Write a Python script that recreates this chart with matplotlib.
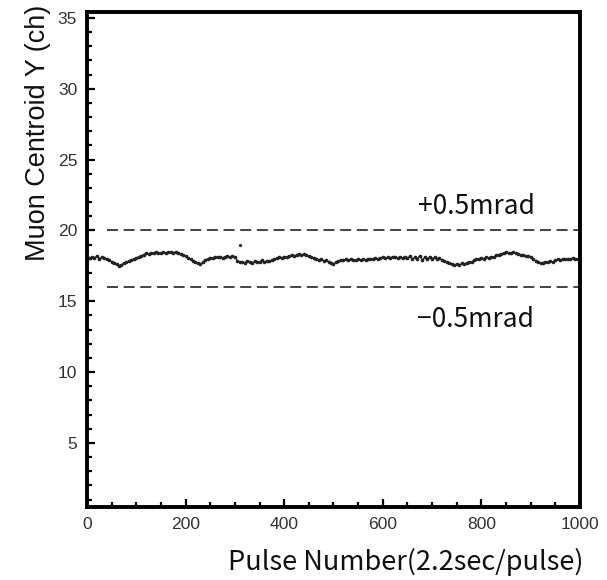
import numpy as np
import matplotlib
matplotlib.use("Agg")
import matplotlib.pyplot as plt
from matplotlib.ticker import MultipleLocator

# centroid, one value every 5 pulses
pulse = np.arange(0, 1000, 5)
centroid = [
    18.12, 18.05, 18.15, 18.08, 18.18, 18.02, 18.10, 18.05, 17.95, 17.88,
    17.80, 17.72, 17.60, 17.52, 17.58, 17.70, 17.75, 17.85, 17.92, 18.00,
    18.05, 18.15, 18.22, 18.30, 18.38, 18.35, 18.42, 18.40, 18.45, 18.38,
    18.42, 18.48, 18.40, 18.46, 18.50, 18.44, 18.48, 18.40, 18.36, 18.30,
    18.20, 18.05, 17.95, 17.85, 17.75, 17.68, 17.62, 17.75, 17.90, 18.00,
    18.08, 18.05, 18.12, 18.10, 18.15, 18.08, 18.12, 18.18, 18.10, 18.20,
    18.15, 17.85, 17.75, 17.80, 17.72, 17.85, 17.78, 17.70, 17.82, 17.75,
    17.80, 17.88, 17.78, 17.85, 17.82, 17.90, 17.95, 18.05, 18.10, 18.08,
    18.15, 18.10, 18.20, 18.25, 18.18, 18.30, 18.35, 18.28, 18.32, 18.25,
    18.18, 18.10, 18.05, 17.98, 17.92, 17.95, 17.85, 17.90, 17.80, 17.68,
    17.62, 17.75, 17.85, 17.92, 17.88, 17.95, 17.90, 17.98, 17.92, 17.88,
    17.95, 17.90, 17.98, 17.92, 18.00, 17.95, 18.02, 18.05, 17.98, 18.08,
    18.10, 18.05, 18.12, 18.08, 18.15, 18.10, 18.05, 18.12, 18.08, 18.15,
    18.05, 18.18, 17.95, 18.12, 18.00, 18.20, 17.92, 18.10, 17.98, 18.15,
    18.02, 18.10, 17.95, 18.05, 17.90, 17.85, 17.78, 17.70, 17.65, 17.58,
    17.62, 17.55, 17.68, 17.62, 17.72, 17.80, 17.78, 17.88, 17.95, 18.00,
    18.05, 18.02, 18.10, 18.08, 18.15, 18.12, 18.25, 18.30, 18.35, 18.40,
    18.45, 18.38, 18.42, 18.48, 18.40, 18.35, 18.30, 18.25, 18.22, 18.18,
    18.10, 17.95, 17.85, 17.75, 17.68, 17.72, 17.80, 17.75, 17.85, 17.78,
    17.88, 17.95, 17.90, 18.00, 17.95, 18.02, 17.98, 18.05, 17.95, 18.00,
]
stray_x = [310]
stray_y = [18.98]

limit_hi = 20.0
limit_lo = 16.0
labels = ["+0.5mrad", "\u22120.5mrad"]

fig = plt.figure(figsize=(6.07, 5.8), dpi=100)
ax = fig.add_axes([0.1433, 0.1259, 0.8122, 0.8534])

ax.plot(pulse, centroid, color="#333333", lw=0.9)
ax.plot(pulse, centroid, ls="none", marker="o", ms=1.6, color="#222222")
ax.plot(stray_x, stray_y, ls="none", marker="o", ms=1.3, color="#222222")

for yv in (limit_hi, limit_lo):
    ax.plot([40, 1000], [yv, yv], color="#111111", lw=1.1, dashes=(7.2, 3.7))

jp = ["Noto Sans CJK JP", "DejaVu Sans"]
ax.text(672, 21.7, labels[0], fontsize=19, family=jp, va="center", color="#111111")
ax.text(670, 13.7, labels[1], fontsize=19, family=jp, va="center", color="#111111")

ax.set_xlim(0, 1000)
ax.set_ylim(0.48, 35.42)
ax.xaxis.set_major_locator(MultipleLocator(200))
ax.xaxis.set_minor_locator(MultipleLocator(50))
ax.yaxis.set_minor_locator(MultipleLocator(1))
ax.set_yticks([5, 10, 15, 20, 25, 30, 35])

for s in ax.spines.values():
    s.set_linewidth(2.8)
ax.tick_params(which="both", direction="in", top=False, right=False,
               labelsize=12.6, labelcolor="#333333", width=1.6)
ax.tick_params(which="major", length=6, pad=7)
ax.tick_params(which="minor", length=3.5)
for lab in ax.get_xticklabels() + ax.get_yticklabels():
    lab.set_family("Liberation Sans")

fig.text(583 / 607, 1 - 562 / 580, "Pulse Number(2.2sec/pulse)", fontsize=19.5,
         family=jp, ha="right", va="center", color="#111111")
fig.text(38 / 607, 1 - 5 / 580, "Muon Centroid Y (ch)", fontsize=19.5,
         family="Liberation Sans", rotation=90, ha="center", va="top", color="#111111")

fig.savefig("out.png", dpi=100)
